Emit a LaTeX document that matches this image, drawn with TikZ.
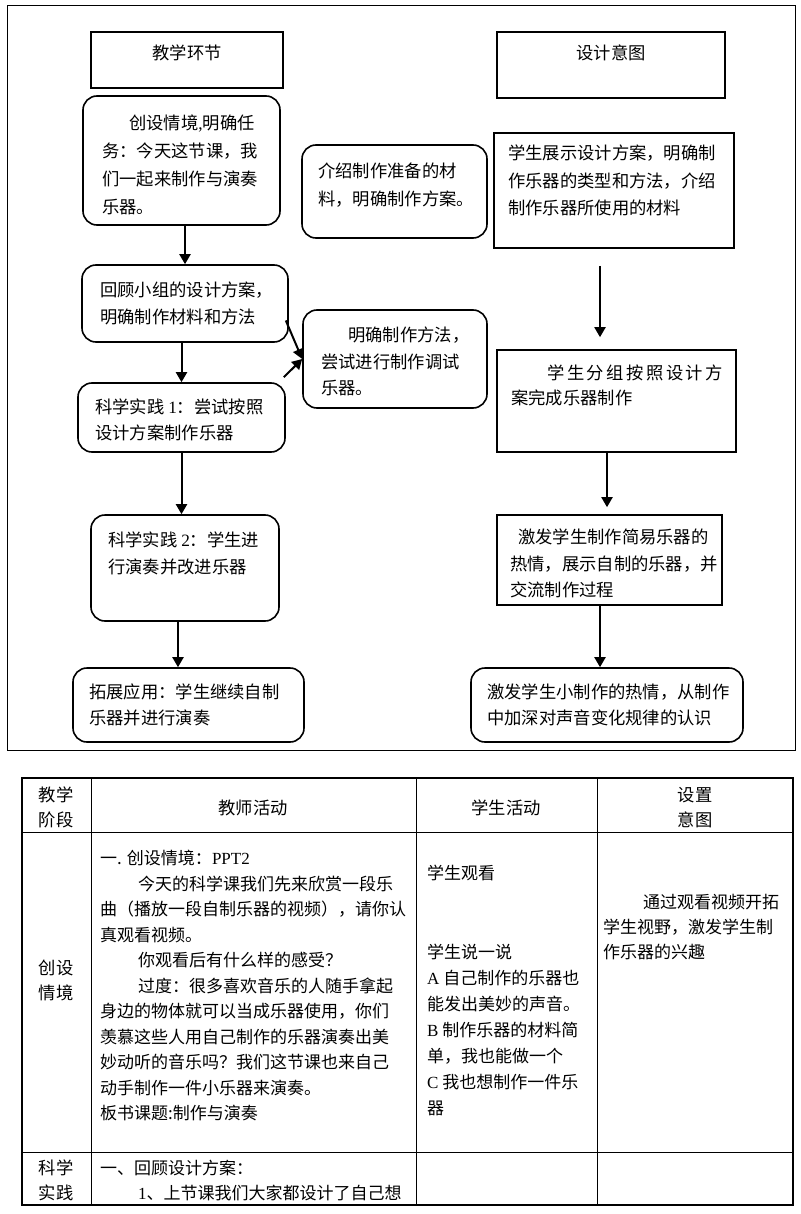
\documentclass[tikz,border=0pt]{standalone}
\usepackage{fontspec}
\setmainfont{Noto Sans CJK SC}
\newfontfamily\lat{Liberation Serif}
\usetikzlibrary{arrows.meta,calc}
\tikzset{
  box/.style={draw, line width=1.6pt, inner sep=0pt},
  rbox/.style={box, rounded corners=14pt},
  txt/.style={anchor=north west, inner sep=0pt, align=left, font=\fontsize{17.3}{#1}\selectfont},
  txt/.default=27,
  ttl/.style={anchor=center, inner sep=0pt, align=center, font=\fontsize{17.3}{25}\selectfont},
  tbl/.style={anchor=north west, inner sep=0pt, align=left, font=\fontsize{17}{#1}\selectfont},
  tbl/.default=25.5,
  arr/.style={line width=2pt, -{Triangle[length=10pt,width=11pt]}},
  frame/.style={line width=1pt},
  grid/.style={line width=1pt},
}
\begin{document}
\begin{tikzpicture}[x=1pt,y=-1pt]
\useasboundingbox (0,0) rectangle (800,1214);
% outer frame of the flowchart
\draw[frame] (7,6) rectangle (795,750);

% heading boxes
\node[box, minimum width=192pt, minimum height=56pt] (T1) at (187,60) {};
\node[ttl] (T1t) at (187,53) {教学环节};
\node[box, minimum width=228pt, minimum height=66pt] (T2) at (611,65) {};
\node[ttl] (T2t) at (611,53) {设计意图};

% left column
\node[rbox, minimum width=197pt, minimum height=129pt] (A) at (181.5,160.5) {};
\node[txt=28] (At) at (102,115) {\hspace*{27pt}创设情境{\lat ,}明确任\\务：今天这节课，我\\们一起来制作与演奏\\乐器。};

\node[rbox, minimum width=185pt, minimum height=93pt] (B) at (394.5,191.5) {};
\node[txt=28] (Bt) at (318,163) {介绍制作准备的材\\料，明确制作方案。};

\node[rbox, minimum width=206pt, minimum height=77pt] (D) at (185,303.5) {};
\node[txt=27] (Dt) at (100,282) {回顾小组的设计方案，\\明确制作材料和方法};

\node[rbox, minimum width=184pt, minimum height=98pt] (E) at (395,359) {};
\node[txt=26.5] (Et) at (321,327) {\hspace*{27pt}明确制作方法，\\尝试进行制作调试\\乐器。};

\node[rbox, minimum width=207pt, minimum height=69pt] (F) at (181.5,417.5) {};
\node[txt=25.5] (Ft) at (95,399) {科学实践 {\lat 1}：尝试按照\\设计方案制作乐器};

\node[rbox, minimum width=188pt, minimum height=106pt] (G) at (185,568) {};
\node[txt=27] (Gt) at (108,532) {科学实践 {\lat 2}：学生进\\行演奏并改进乐器};

\node[rbox, minimum width=231pt, minimum height=74pt] (H) at (188.5,705) {};
\node[txt=26] (Ht) at (89,684) {拓展应用：学生继续自制\\乐器并进行演奏};

% right column
\node[box, minimum width=240pt, minimum height=115pt] (C) at (614,190.5) {};
\node[txt=27.5] (Ct) at (508,145) {学生展示设计方案，明确制\\作乐器的类型和方法，介绍\\制作乐器所使用的材料};

\node[box, minimum width=239pt, minimum height=102pt] (I) at (616.5,401) {};
\node[txt=25] (It) at (511,365) {\hspace*{36pt}学\kern2.5pt 生\kern2.5pt 分\kern2.5pt 组\kern2.5pt 按\kern2.5pt 照\kern2.5pt 设\kern2.5pt 计\kern2.5pt 方\\案完成乐器制作};

\node[box, minimum width=225pt, minimum height=90pt] (J) at (609.5,560) {};
\node[txt=26.5] (Jt) at (510,529) {\hspace*{8pt}激发学生制作简易乐器的\\热情，展示自制的乐器，并\\交流制作过程};

\node[rbox, minimum width=272pt, minimum height=74pt] (K) at (607,705) {};
\node[txt=26] (Kt) at (487,684) {激发学生小制作的热情，从制作\\中加深对声音变化规律的认识};

% connectors
\draw[arr] (A.south -| D.north) -- (D.north);
\draw[arr] (D.south -| F.north) -- (F.north);
\draw[arr] ($(D.east)+(-3,17)$) -- (E.west);
\draw[arr] ($(F.north east)+(-2,-5)$) -- (E.west);
\draw[arr] (F.south) -- (F.south |- G.north);
\draw[arr] ($(G.south)+(-7,0)$) -- ($(H.north)+(-10.5,0)$);
\draw[arr] ($(C.south)+(-14,17)$) -- ($(I.north)+(-16.5,-12)$);
\draw[arr] ($(I.south)+(-9.5,0)$) -- ($(J.north)+(-2.5,-7)$);
\draw[arr] ($(J.south)+(-9.5,0)$) -- ($(K.north)+(-7,0)$);

% table
\draw[line width=1.5pt] (22,778) rectangle (793,1205);
\draw[grid] (91,778) -- (91,1205);
\draw[grid] (416,778) -- (416,1205);
\draw[grid] (597,778) -- (597,1205);
\draw[grid] (22,832) -- (793,832);
\draw[grid] (22,1152) -- (793,1152);

\node[ttl] (h1) at (56,807.5) {教学\\阶段};
\node[ttl] (h2) at (253,808) {教师活动};
\node[ttl] (h3) at (506,808) {学生活动};
\node[ttl] (h4) at (695,807.5) {设置\\意图};

\node[ttl] (r1) at (56,980.5) {创设\\情境};
\node[tbl] (r1t) at (100,850) {一. 创设情境：{\lat PPT2}\\
\hspace*{38pt}今天的科学课我们先来欣赏一段乐\\
曲（播放一段自制乐器的视频），请你认\\
真观看视频。\\
\hspace*{38pt}你观看后有什么样的感受？\\
\hspace*{38pt}过度：很多喜欢音乐的人随手拿起\\
身边的物体就可以当成乐器使用，你们\\
羡慕这些人用自己制作的乐器演奏出美\\
妙动听的音乐吗？我们这节课也来自己\\
动手制作一件小乐器来演奏。\\
板书课题:制作与演奏};
\node[tbl] (r1s) at (427,865) {学生观看};
\node[tbl=26] (r1u) at (427,944) {学生说一说\\
{\lat A} 自己制作的乐器也\\
能发出美妙的声音。\\
{\lat B} 制作乐器的材料简\\
单，我也能做一个\\
{\lat C} 我也想制作一件乐\\
器};
\node[tbl=25] (r1i) at (603,894) {\hspace*{40pt}通过观看视频开拓\\学生视野，激发学生制\\作乐器的兴趣};

\node[ttl] (r2) at (56,1180.5) {科学\\实践};
\node[tbl=25] (r2t) at (100,1160) {一、回顾设计方案：\\\hspace*{38pt}{\lat 1}、上节课我们大家都设计了自己想};
\end{tikzpicture}
\end{document}
